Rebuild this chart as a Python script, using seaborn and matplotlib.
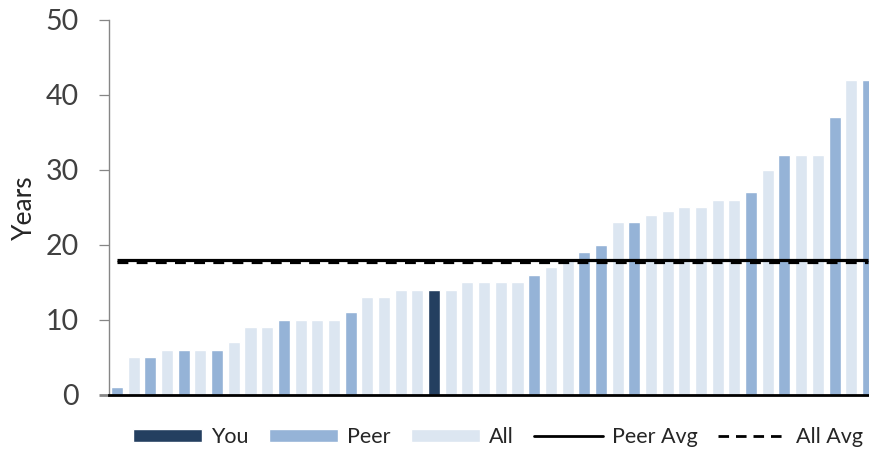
import numpy as np
import pandas as pd
import matplotlib
matplotlib.use("Agg")
import matplotlib.pyplot as plt
import seaborn as sns
from matplotlib.patches import Patch
from matplotlib.lines import Line2D

# Tenure in years, sorted ascending, with the group each bar belongs to
years = [1, 5, 5, 6, 6, 6, 6, 7, 9, 9, 10, 10, 10, 10, 11, 13, 13, 14, 14, 14,
         14, 15, 15, 15, 15, 16, 17, 18, 19, 20, 23, 23, 24, 24.5, 25, 25, 26,
         26, 27, 30, 32, 32, 32, 37, 42, 42]
groups = ["Peer", "All", "Peer", "All", "Peer", "All", "Peer", "All", "All", "All",
          "Peer", "All", "All", "All", "Peer", "All", "All", "All", "All", "You",
          "All", "All", "All", "All", "All", "Peer", "All", "All", "Peer", "Peer",
          "All", "Peer", "All", "All", "All", "All", "All", "All", "Peer", "All",
          "Peer", "All", "All", "Peer", "All", "Peer"]
legend_labels = ["You", "Peer", "All", "Peer Avg", "All Avg"]
y_ticks = [0, 10, 20, 30, 40, 50]

colors = {"You": "#243F60", "Peer": "#95B3D7", "All": "#DCE6F1"}

df = pd.DataFrame({"pos": np.arange(len(years)), "years": years, "group": groups})
peer_avg = df.loc[df["group"].isin(["Peer", "You"]), "years"].mean()
all_avg = df["years"].mean()

sns.set_style("white")
plt.rcParams["font.family"] = ["Lato", "DejaVu Sans"]

fig = plt.figure(figsize=(8.7, 4.49), dpi=100)
ax = fig.add_axes([0.1249, 0.1203, 0.8823, 0.8352])

sns.barplot(data=df, x="pos", y="years", hue="group", palette=colors,
            dodge=False, width=0.72, saturation=1, errorbar=None,
            legend=False, ax=ax)

n = len(years)
ax.hlines(peer_avg, 0, n - 1, color="black", lw=2.3, zorder=5)
ax.hlines(all_avg, 0, n - 1, color="black", lw=2.3, linestyles=(0, (3.4, 2.6)), zorder=5)

ax.set_xlim(-0.5, n - 0.5)
ax.set_ylim(0, 50)
ax.set_yticks(y_ticks)
ax.set_xticks([])
ax.set_xlabel("")
ax.set_ylabel("Years", fontsize=19, color="#262626", labelpad=6)

for side in ("top", "right"):
    ax.spines[side].set_visible(False)
ax.spines["left"].set_color("#868686")
ax.spines["left"].set_linewidth(1.0)
ax.spines["bottom"].set_color("black")
ax.spines["bottom"].set_linewidth(2.0)
ax.spines["bottom"].set_zorder(6)

ax.tick_params(axis="y", length=7.5, width=0.9, color="#868686", pad=14,
               labelsize=20.5, labelcolor="#404040", left=True)
zero_tick = ax.yaxis.get_major_ticks()[0]
zero_tick.tick1line.set_color("black")
zero_tick.tick1line.set_markeredgewidth(2.0)

handles = [
    Patch(facecolor=colors["You"], label=legend_labels[0]),
    Patch(facecolor=colors["Peer"], label=legend_labels[1]),
    Patch(facecolor=colors["All"], label=legend_labels[2]),
    Line2D([], [], color="black", lw=2.0, label=legend_labels[3]),
    Line2D([], [], color="black", lw=2.0, linestyle=(0, (3.8, 2.5)), label=legend_labels[4]),
]
fig.legend(handles=handles, loc="center", bbox_to_anchor=(498 / 870, 1 - 437 / 449),
           ncol=5, frameon=False, fontsize=15.5, handlelength=3.2, handleheight=0.6,
           handletextpad=0.42, columnspacing=0.95, borderaxespad=0)

fig.savefig("out.png", dpi=100)
